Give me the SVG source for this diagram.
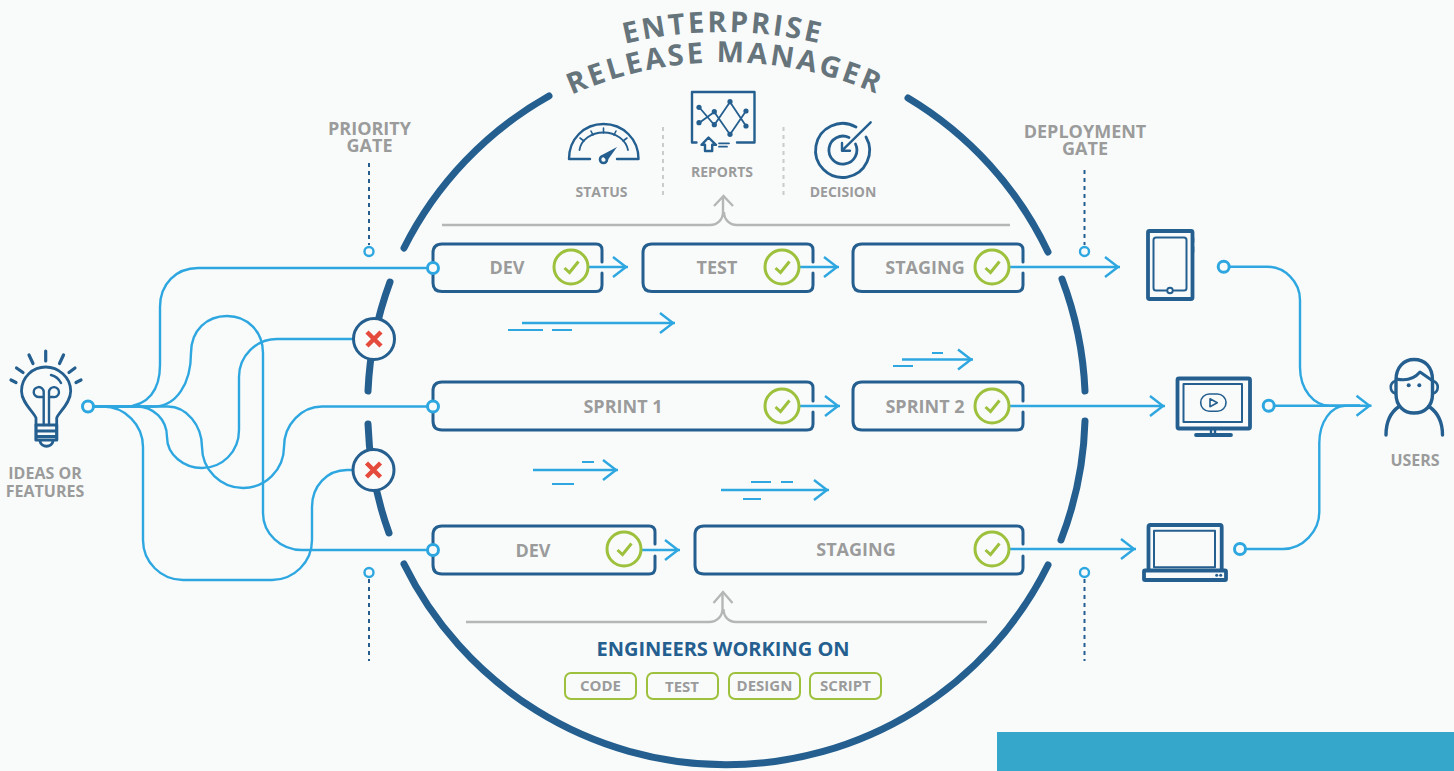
<svg xmlns="http://www.w3.org/2000/svg" xmlns:xlink="http://www.w3.org/1999/xlink" width="1454" height="771" viewBox="0 0 1454 771">
<style>
text{font-family:"Open Sans","Noto Sans","Liberation Sans",sans-serif;font-weight:700;fill:#9b9b9b;text-anchor:middle}
.t16{font-size:16px}.t14{font-size:14px}.t15{font-size:15px}.t18{font-size:18px}.gate{font-size:18px}
.title{font-size:29px;fill:#66747c;letter-spacing:2.7px}
.head{font-size:20px;fill:#245f8f}
.arc{fill:none;stroke:#245f8f;stroke-width:7;stroke-linecap:round}
.flow{fill:none;stroke:#2ea7e0;stroke-width:2.4}
.arrow{fill:none;stroke:#2ea7e0;stroke-width:2.4;marker-end:url(#head)}
.thin{fill:none;stroke:#2ea7e0;stroke-width:2}
.port{fill:#f9fbfb;stroke:#2ea7e0;stroke-width:3}
.box{fill:none;stroke:#245f8f;stroke-width:3;stroke-linecap:round;stroke-linejoin:round}
.ico{fill:none;stroke:#245f8f;stroke-width:2.4;stroke-linecap:round;stroke-linejoin:round}
.ico3{fill:none;stroke:#245f8f;stroke-width:3.8;stroke-linecap:round;stroke-linejoin:round}
.dot{fill:#245f8f}
.gray{fill:none;stroke:#b5b7b7;stroke-width:2.4}
.sep{fill:none;stroke:#c9cccc;stroke-width:2;stroke-dasharray:4 4}
.dots{fill:none;stroke:#245f8f;stroke-width:2;stroke-dasharray:4 4}
.pill{fill:none;stroke:#9dc13c;stroke-width:2}
.stop{fill:#f9fbfb;stroke:#245f8f;stroke-width:3}
.x{fill:none;stroke:#e54b3c;stroke-width:4.5}
</style>
<defs>
<marker id="head" markerUnits="userSpaceOnUse" markerWidth="20" markerHeight="26" viewBox="-16 -13 20 26" refX="2" refY="0" orient="auto"><path d="M-13,-10 L0,0 L-13,10" fill="none" stroke="#2ea7e0" stroke-width="2.4"/></marker>
<g id="ok"><circle r="17" fill="#f9fbfb" stroke="#9dc13c" stroke-width="3"/><path d="M-6.5,1 L-1.5,5.5 L7.5,-5.5" fill="none" stroke="#9dc13c" stroke-width="3"/></g>
<path id="tp1" d="M523,83.4 A415,415 0 0 1 923,83.4"/>
<path id="tp2" d="M475,157 A377,377 0 0 1 975,157"/>
</defs>
<rect width="1454" height="771" fill="#f9fbfb"/>
<rect x="997" y="732" width="457" height="39" fill="#35a7cb"/>

<g id="title">
<text class="title"><textPath href="#tp1" xlink:href="#tp1" startOffset="50%">ENTERPRISE</textPath></text>
<text class="title"><textPath href="#tp2" xlink:href="#tp2" startOffset="50%">RELEASE MANAGER</textPath></text>
</g>

<g id="frame">
<path class="arc" d="M404,248 A359,359 0 0 1 549,96"/>
<path class="arc" d="M908,98 A359,359 0 0 1 1048,252"/>
<path class="arc" d="M390,282 A359,359 0 0 0 368,391"/>
<path class="arc" d="M368,424 A359,359 0 0 0 389,533"/>
<path class="arc" d="M1062,279 A359,359 0 0 1 1085,391"/>
<path class="arc" d="M1085,421 A359,359 0 0 1 1061,540"/>
<path class="arc" d="M404,564 A359,359 0 0 0 1048,565"/>
</g>

<g id="connectors">
<path class="flow" d="M88,406.5 H125 C148,406 160,390 160,365 V307 C160,284 176,268 198,268 H433"/>
<path class="flow" d="M88,406.5 H155 C176,406 191,384 191,353 C191,330 207,316 227,316 C248,316 263,332 263,353 V513 C263,534 281,550 302,550 H433"/>
<path class="flow" d="M88,406.5 H135 C154,406 167,420 167,437 C167,455 184,468 202,468 C222,468 239,452 239,430 V377 C239,356 256,339 277,339 H354"/>
<path class="flow" d="M88,406.5 H167 C187,406 202,426 202,447 C202,470 221,488 243,488 C265,488 284,470 284,447 C284,424 302,406.5 322,406.5 H433"/>
<path class="flow" d="M88,406.5 H102 C125,406 143,425 143,447 V540 C143,562 161,580 183,580 H272 C294,580 312,562 312,540 V507 C312,486 327,470 347,470 H354"/>
<path class="flow" d="M1224,266.7 H1267 C1285,266.7 1300,282 1300,300 V367 C1300,390 1314,405.7 1330,405.7 H1360"/>
<path class="flow" d="M1240,549 H1283 C1303,549 1319.3,531 1319.3,512 V443 C1319.3,422 1331,406 1345,405.7 H1360"/>
<path class="arrow" d="M1268,405.7 H1371.5"/>
<path class="arrow" d="M588,267 H628"/>
<path class="arrow" d="M799,267 H839"/>
<path class="arrow" d="M1009,267 H1120"/>
<path class="arrow" d="M799,406 H840"/>
<path class="arrow" d="M1009,406 H1165"/>
<path class="arrow" d="M641,550 H680"/>
<path class="arrow" d="M1009,549 H1136"/>
<path class="arrow" d="M522,323 H675"/>
<path class="thin" d="M508,330 H543 M552,330 H572"/>
<path class="arrow" d="M902,359.500 H973"/>
<path class="thin" d="M893,366 H913 M932,353 H943"/>
<path class="arrow" d="M533,470 H618"/>
<path class="thin" d="M582,462 H594 M552,484 H574"/>
<path class="arrow" d="M721,490 H829"/>
<path class="thin" d="M751,482 H771 M781,482 H793 M743,499 H761"/>
<path class="gray" d="M442,225 H710 C718,225 723,219 723,212 V197 M1010,225 H737 C729,225 724,219 724,212"/>
<path class="gray" d="M714,206 L723.500,196 L733,206"/>
<path class="gray" d="M466,622 H709 C717,622 722.500,616 722.500,609 V592 M987,622 H736 C728,622 723.500,616 723.500,609"/>
<path class="gray" d="M713.500,603 L723,592 L732.500,603"/>
<path class="sep" d="M663,127 V195 M783.500,127 V195"/>
</g>

<g id="idea-node">
<path class="ico" d="M36,425 V418 C34,412 21.500,403 21.500,391 C21.500,377 33,367 45.700,367 C58,367 70.700,377 70.700,391 C70.700,403 59,412 56.700,418 V425 Z" style="stroke-width:2.800"/>
<path class="ico" d="M51,375 C55,376 59,379 61,383"/>
<path class="ico" d="M43.700,425 V397 H39.500 A5,5 0 1 1 43.700,392 V397 M49,425 V397 H53 A5,5 0 1 0 49,392 V397"/>
<path class="ico3" d="M36,425 V440 H56.700 V425 M36,431 H56.700 M36,436.500 H56.700" style="stroke-width:3.200"/>
<path class="ico" d="M40,441 C41,448 52,448 53,441" style="stroke-width:2.800"/>
<path class="ico3" d="M45.700,351 V361 M29,355 L33,363.500 M63.500,355 L59.500,363.500 M16.500,368 L23,372.500 M75,368 L69,372.500 M11,380 L16,382.500 M81,380 L76,382.500" style="stroke-width:3.200"/>
<circle class="port" cx="88" cy="406.500" r="5.500"/>
<text class="t16" x="45" y="479">IDEAS OR</text>
<text class="t16" x="45" y="497">FEATURES</text>
</g>

<g id="priority-gate">
<text class="gate" x="369.500" y="135">PRIORITY</text>
<text class="gate" x="369.500" y="152">GATE</text>
<path class="dots" d="M369,163 V245 M369,579 V661"/>
<circle class="port" cx="369" cy="251.500" r="4.500" style="stroke-width:2.400"/>
<circle class="port" cx="369" cy="572.500" r="4.500" style="stroke-width:2.400"/>
</g>

<g id="stop-1"><circle class="stop" cx="374" cy="339" r="20.500"/><path class="x" d="M367,332 L381,346 M381,332 L367,346"/></g>
<g id="stop-2"><circle class="stop" cx="373.500" cy="470" r="20.500"/><path class="x" d="M366.500,463 L380.500,477 M380.500,463 L366.500,477"/></g>

<g id="deployment-gate">
<text class="gate" x="1085" y="138">DEPLOYMENT</text>
<text class="gate" x="1085" y="155">GATE</text>
<path class="dots" d="M1084.500,170 V245 M1084.500,579 V661"/>
<circle class="port" cx="1084.500" cy="251.500" r="4.500" style="stroke-width:2.400"/>
<circle class="port" cx="1084.500" cy="572.500" r="4.500" style="stroke-width:2.400"/>
</g>

<g id="status">
<path class="ico" d="M590,159 H569 C569,139 584,124 603.500,124 C623,124 638.500,139 638.500,159 H617"/>
<path class="ico" d="M579.500,150 C581,140 591,132.500 603.500,132.500 C616,132.500 626,140 628,150" style="stroke-width:1.800"/>
<path class="ico" d="M584,141 L580,138 M593,135 L591,131 M603.500,133 V128 M614,135 L616,131 M623,141 L627,138" style="stroke-width:1.600"/>
<circle class="ico" cx="603.500" cy="159.500" r="3.500" style="stroke-width:2.600"/>
<path class="dot" d="M602,155 L617,147 L607,161 Z"/>
<text class="t14" x="601.500" y="197">STATUS</text>
</g>

<g id="reports">
<path class="ico" d="M696.500,142.500 H692 V92 H754.500 V142.500 H737"/>
<path class="ico" d="M699,107 L714.300,125 L730,102 L746,126 M699,123 L714.300,112 L730,134.500 L746,111" style="stroke-width:1.800"/>
<g class="dot"><circle cx="699" cy="107.300" r="2.600"/><circle cx="714.300" cy="111.700" r="2.600"/><circle cx="730" cy="101.700" r="2.600"/><circle cx="746" cy="111" r="2.600"/><circle cx="699" cy="122.700" r="2.600"/><circle cx="714.300" cy="124.700" r="2.600"/><circle cx="730" cy="134.300" r="2.600"/><circle cx="746" cy="126" r="2.600"/></g>
<path class="ico" d="M708.500,137.500 L716,144.800 H712.200 V151 H705 V144.800 H701.500 Z"/>
<path class="ico" d="M719,143.300 H729 M719,146.700 H727" style="stroke-width:1.800"/>
<text class="t14" x="722" y="177">REPORTS</text>
</g>

<g id="decision">
<path class="ico" d="M856,127 A27,27 0 1 0 866,137" style="stroke-width:2.800"/>
<path class="ico" d="M849,137.500 A14,14 0 1 0 855.500,144" style="stroke-width:2.800"/>
<path class="ico" d="M870.700,122.300 L842,150.700 M842,143 V150.700 H850"/>
<text class="t14" x="843" y="197">DECISION</text>
</g>

<g id="node-dev-1">
<path class="box" d="M602,262 V250 Q602,244 596,244 H442 Q433,244 433,253 V283 Q433,291.500 442,291.500 H596 Q602,291.500 602,285 V273"/>
<text class="t18" x="507" y="274">DEV</text><use href="#ok" xlink:href="#ok" x="571" y="267"/>
</g>
<g id="node-test">
<path class="box" d="M813,262 V250 Q813,244 807,244 H652 Q643,244 643,253 V283 Q643,291.500 652,291.500 H807 Q813,291.500 813,285 V273"/>
<text class="t18" x="717" y="274">TEST</text><use href="#ok" xlink:href="#ok" x="782" y="267"/>
</g>
<g id="node-staging-1">
<path class="box" d="M1023,262 V250 Q1023,244 1017,244 H862 Q853,244 853,253 V283 Q853,291.500 862,291.500 H1017 Q1023,291.500 1023,285 V273"/>
<text class="t18" x="925" y="274">STAGING</text><use href="#ok" xlink:href="#ok" x="992" y="267"/>
</g>
<g id="node-sprint-1">
<path class="box" d="M813,401 V388 Q813,382 807,382 H442 Q433,382 433,391 V421 Q433,430 442,430 H807 Q813,430 813,424 V412"/>
<text class="t18" x="623" y="413">SPRINT 1</text><use href="#ok" xlink:href="#ok" x="782" y="406"/>
</g>
<g id="node-sprint-2">
<path class="box" d="M1023,401 V388 Q1023,382 1017,382 H862 Q853,382 853,391 V421 Q853,430 862,430 H1017 Q1023,430 1023,424 V412"/>
<text class="t18" x="925" y="413">SPRINT 2</text><use href="#ok" xlink:href="#ok" x="992" y="406"/>
</g>
<g id="node-dev-2">
<path class="box" d="M655,544 V532 Q655,526 649,526 H442 Q433,526 433,535 V565 Q433,574 442,574 H649 Q655,574 655,568 V556"/>
<text class="t18" x="533" y="557">DEV</text><use href="#ok" xlink:href="#ok" x="624" y="549"/>
</g>
<g id="node-staging-2">
<path class="box" d="M1023,544 V532 Q1023,526 1017,526 H704 Q695,526 695,535 V565 Q695,574 704,574 H1017 Q1023,574 1023,568 V556"/>
<text class="t18" x="856" y="556">STAGING</text><use href="#ok" xlink:href="#ok" x="992" y="549"/>
</g>
<g id="entry-ports">
<circle class="port" cx="433" cy="268" r="5.500"/>
<circle class="port" cx="433" cy="406.500" r="5.500"/>
<circle class="port" cx="433" cy="550" r="5.500"/>
</g>

<g id="engineers">
<text class="head" x="723" y="656">ENGINEERS WORKING ON</text>
<rect class="pill" x="565" y="673" width="71" height="26" rx="6"/><text class="t15" x="600.500" y="691">CODE</text>
<rect class="pill" x="647" y="673" width="71" height="26" rx="6"/><text class="t15" x="682" y="692">TEST</text>
<rect class="pill" x="729" y="673" width="71" height="26" rx="6"/><text class="t15" x="764.500" y="691">DESIGN</text>
<rect class="pill" x="810" y="673" width="71" height="26" rx="6"/><text class="t15" x="845.500" y="691">SCRIPT</text>
</g>

<g id="tablet">
<rect class="ico3" x="1148" y="231" width="44.500" height="68" rx="1.500"/>
<path class="ico" d="M1166,290.500 H1156 Q1153.500,290.500 1153.500,288 V240 Q1153.500,237.500 1156,237.500 H1184 Q1186.500,237.500 1186.500,240 V288 Q1186.500,290.500 1184,290.500 H1174" style="stroke-width:2"/>
<circle class="ico" cx="1170" cy="290.500" r="2.800" style="stroke-width:2"/>
<path class="ico" d="M1193,238 V242 M1193,247 V252" style="stroke-width:2.600"/>
<circle class="port" cx="1223.700" cy="266.700" r="5.500"/>
</g>
<g id="monitor">
<rect class="ico3" x="1177.500" y="378.500" width="72.500" height="50" rx="1.500"/>
<rect class="ico" x="1183.500" y="384" width="58.500" height="38" style="stroke-width:2"/>
<rect class="ico" x="1200.700" y="394" width="25.300" height="17.300" rx="8.600" style="stroke-width:1.600"/>
<path class="ico" d="M1210,398.700 L1217.300,402.700 L1210,406.700 Z" style="stroke-width:1.600"/>
<path class="ico" d="M1211,429 V434 M1215,429 V434" style="stroke-width:2.400"/>
<path class="ico3" d="M1196,435 H1231"/>
<circle class="port" cx="1268.700" cy="405.700" r="5.500"/>
</g>
<g id="laptop">
<path class="ico3" d="M1148.500,570 V527 Q1148.500,525 1150.500,525 H1220 Q1221.700,525 1221.700,527 V570"/>
<rect class="ico" x="1154" y="530.700" width="61" height="36.500" style="stroke-width:2"/>
<rect class="ico3" x="1144" y="570.500" width="82" height="9.500" rx="1"/>
<circle class="dot" cx="1216.700" cy="575.300" r="1.500"/><circle class="dot" cx="1220.700" cy="575.300" r="1.500"/>
<circle class="port" cx="1240" cy="549" r="5.500"/>
</g>

<g id="users">
<path class="ico3" d="M1396,380 C1396,367 1404,359.500 1414,359.500 C1425,359.500 1432.500,367 1432.500,380 V394 C1432.500,406 1425,413 1414,413 C1404,413 1396,406 1396,394 Z" style="stroke-width:3.400"/>
<path class="ico" d="M1396.500,379 C1405,381 1414,379 1420,372 L1431.500,380" style="stroke-width:3"/>
<path class="ico" d="M1395.500,381 A6.500,6.500 0 0 0 1395.500,393.500 M1433,381 A6.500,6.500 0 0 1 1433,393.500" style="stroke-width:2.600"/>
<circle class="dot" cx="1408.700" cy="385.300" r="2"/><circle class="dot" cx="1419.300" cy="385.300" r="2"/>
<path class="ico3" d="M1386,435 C1386,421 1391,412 1399,406.500 M1442.500,435 C1442.500,421 1437,412 1429,406.500" style="stroke-width:3.400"/>
<text class="t16" x="1415" y="466">USERS</text>
</g>
</svg>
